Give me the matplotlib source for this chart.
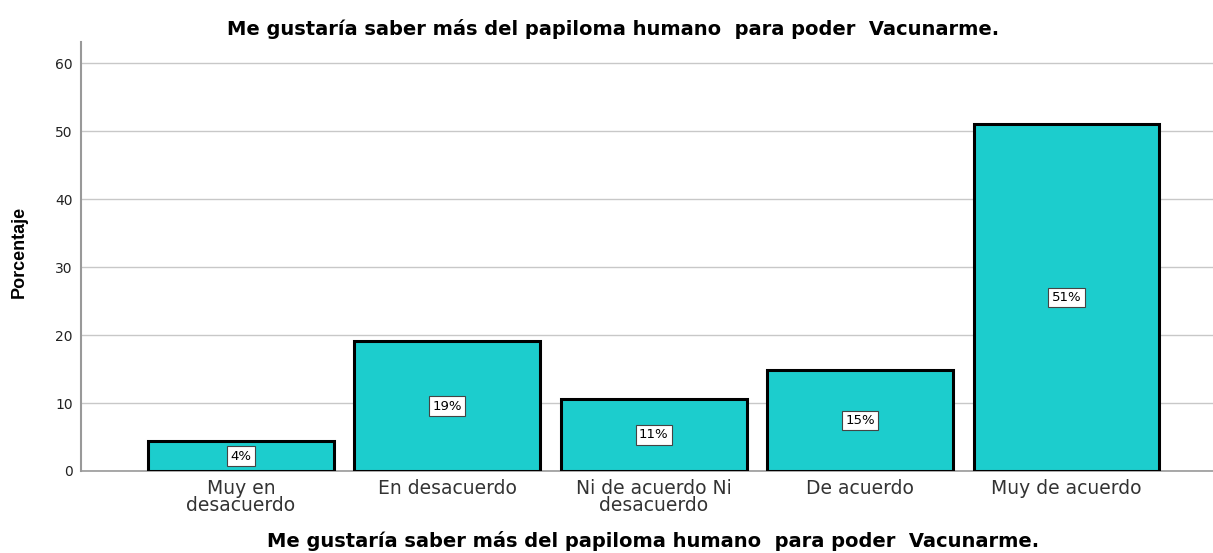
import matplotlib.pyplot as plt

categories = ["Muy en\ndesacuerdo", "En desacuerdo", "Ni de acuerdo Ni\ndesacuerdo",
              "De acuerdo", "Muy de acuerdo"]
values = [4.4, 19.1, 10.6, 14.85, 51.0]
labels = ["4%", "19%", "11%", "15%", "51%"]
yticks = [0, 10, 20, 30, 40, 50, 60]
title = "Me gustaría saber más del papiloma humano  para poder  Vacunarme."

plt.rcParams["font.family"] = ["DejaVu Sans"]

fig = plt.figure(figsize=(12.13, 5.53), dpi=100)
ax = fig.add_axes([0.0668, 0.1483, 0.9332, 0.7757])

x = list(range(len(categories)))
ax.bar(x, values, width=0.9, color="#1ccdcd", edgecolor="black", linewidth=2.2, zorder=3)
for xi, v, lab in zip(x, values, labels):
    ax.text(xi, v / 2, lab, ha="center", va="center", fontsize=9.5, zorder=4,
            bbox=dict(boxstyle="square,pad=0.25", facecolor="white", edgecolor="#444444", linewidth=0.8))

ax.set_xlim(-0.775, 4.71)
ax.set_ylim(0, 63.1)
ax.set_yticks(yticks)
ax.set_xticks(x)
ax.set_xticklabels(categories, fontsize=13.5, color="#333333", linespacing=0.85)
ax.tick_params(axis="x", length=0, pad=6)
ax.tick_params(axis="y", length=0, pad=6, labelsize=10, labelcolor="#222222")
ax.yaxis.grid(True, color="#c8c8c8", linewidth=1, zorder=0)
ax.set_axisbelow(True)
for side in ["top", "right"]:
    ax.spines[side].set_visible(False)
ax.spines["left"].set_color("#999999")
ax.spines["left"].set_linewidth(1.5)
ax.spines["bottom"].set_color("#999999")
ax.spines["bottom"].set_linewidth(1.2)

fig.text(0.505, 0.948, title, ha="center", va="center", fontsize=14, fontweight="bold")
fig.text(0.538, 0.022, title, ha="center", va="center", fontsize=14, fontweight="bold")
fig.text(0.016, 0.544, "Porcentaje", ha="center", va="center", rotation=90,
         fontsize=13, fontweight="bold", family="Liberation Sans")

fig.savefig("out.png", dpi=100)
